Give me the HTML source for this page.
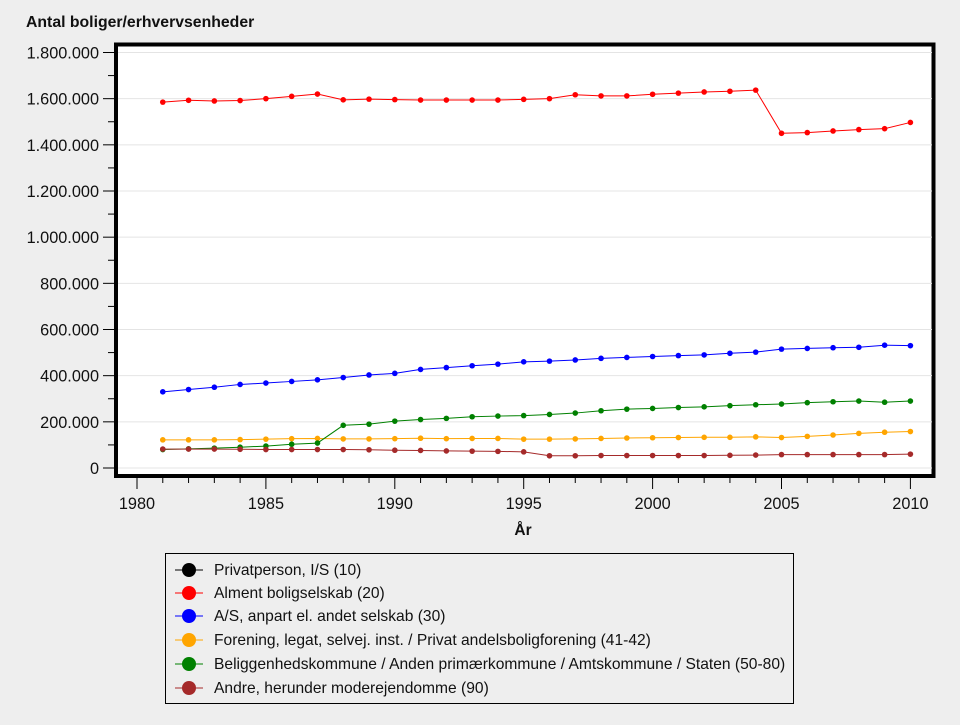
<!DOCTYPE html>
<html><head><meta charset="utf-8"><style>
body{margin:0;background:#eeeeee;width:960px;height:720px;overflow:hidden;font-family:"Liberation Sans",sans-serif}
text{font-family:"Liberation Sans",sans-serif}
</style></head><body>
<svg id="s" width="960" height="720" xmlns="http://www.w3.org/2000/svg">
<rect x="0" y="0" width="960" height="720" fill="#eeeeee"/>
<text x="26" y="27" font-size="15.8" font-weight="bold" fill="#111">Antal boliger/erhvervsenheder</text>
<rect x="116" y="44.5" width="817.5" height="431.5" fill="#fff" stroke="#000" stroke-width="4"/>
<g id="grid"></g>
<g id="ax" font-size="16.3" fill="#111"></g>
<text x="523" y="535" font-size="15.5" font-weight="bold" text-anchor="middle" fill="#111">År</text>
<g id="series"></g>
<rect x="165.5" y="553.5" width="628" height="150" fill="#eeeeee" stroke="#000" stroke-width="1"/>
<g font-size="15.6" fill="#111">
<line x1="175" y1="570" x2="203" y2="570" stroke="#000"/><circle cx="189" cy="570" r="7" fill="#000"/><text x="214" y="575">Privatperson, I/S (10)</text>
<line x1="175" y1="593" x2="203" y2="593" stroke="red"/><circle cx="189" cy="593" r="7" fill="red"/><text x="214" y="598">Alment boligselskab (20)</text>
<line x1="175" y1="616" x2="203" y2="616" stroke="blue"/><circle cx="189" cy="616" r="7" fill="blue"/><text x="214" y="621">A/S, anpart el. andet selskab (30)</text>
<line x1="175" y1="640" x2="203" y2="640" stroke="orange"/><circle cx="189" cy="640" r="7" fill="orange"/><text x="214" y="645">Forening, legat, selvej. inst. / Privat andelsboligforening (41-42)</text>
<line x1="175" y1="664" x2="203" y2="664" stroke="green"/><circle cx="189" cy="664" r="7" fill="green"/><text x="214" y="669">Beliggenhedskommune / Anden primærkommune / Amtskommune / Staten (50-80)</text>
<line x1="175" y1="688" x2="203" y2="688" stroke="brown"/><circle cx="189" cy="688" r="7" fill="brown"/><text x="214" y="693">Andre, herunder moderejendomme (90)</text>
</g>
</svg>
<script>
var NS="http://www.w3.org/2000/svg";
function el(p,t,a,txt){var e=document.createElementNS(NS,t);for(var k in a)e.setAttribute(k,a[k]);if(txt!==undefined)e.textContent=txt;document.getElementById(p).appendChild(e);}
function Y(v){return 468-v*(415.5/1800);}
function X(y){return 137+(y-1980)*25.78;}
var labs=["0","200.000","400.000","600.000","800.000","1.000.000","1.200.000","1.400.000","1.600.000","1.800.000"];
for(var i=0;i<=18;i++){var y=Y(i*100);
 if(i%2==0){el("grid","line",{x1:118,x2:932,y1:y,y2:y,stroke:"#e4e4e4"});el("ax","line",{x1:103,x2:114,y1:y,y2:y,stroke:"#000"});el("ax","text",{x:99,y:y+6,"text-anchor":"end"},labs[i/2]);}
 else el("ax","line",{x1:108,x2:114,y1:y,y2:y,stroke:"#000"});}
for(var yr=1980;yr<=2010;yr++){var x=X(yr);
 if(yr%5==0){el("ax","line",{x1:x,x2:x,y1:478,y2:489,stroke:"#000"});el("ax","text",{x:x,y:509,"text-anchor":"middle"},String(yr));}
 else el("ax","line",{x1:x,x2:x,y1:478,y2:483,stroke:"#000"});}
var D={
red:[1585,1593,1590,1592,1600,1610,1620,1595,1598,1596,1594,1594,1594,1594,1597,1600,1617,1612,1612,1619,1624,1629,1632,1637,1450,1453,1460,1466,1470,1497],
blue:[330,340,350,362,368,375,382,392,403,410,427,435,443,450,460,463,468,475,479,483,487,490,497,502,515,518,521,523,532,530],
orange:[122,122,122,123,125,127,128,126,126,127,129,127,128,128,125,125,126,128,130,131,132,133,133,135,132,137,143,150,155,158],
green:[80,83,86,90,95,103,108,185,190,203,210,215,222,225,227,232,238,248,255,258,262,265,270,274,277,283,287,290,285,290],
brown:[82,82,82,81,80,80,80,80,79,77,76,74,73,72,70,53,53,54,54,54,54,54,55,56,58,58,58,58,58,60]};
["red","blue","orange","green","brown"].forEach(function(c){var d=D[c],pts=[];
 for(var i=0;i<d.length;i++)pts.push(X(1981+i)+","+Y(d[i]));
 el("series","polyline",{points:pts.join(" "),fill:"none",stroke:c,"stroke-width":1});
 for(var i=0;i<d.length;i++)el("series","circle",{cx:X(1981+i),cy:Y(d[i]),r:2.8,fill:c});});
</script>
</body></html>
